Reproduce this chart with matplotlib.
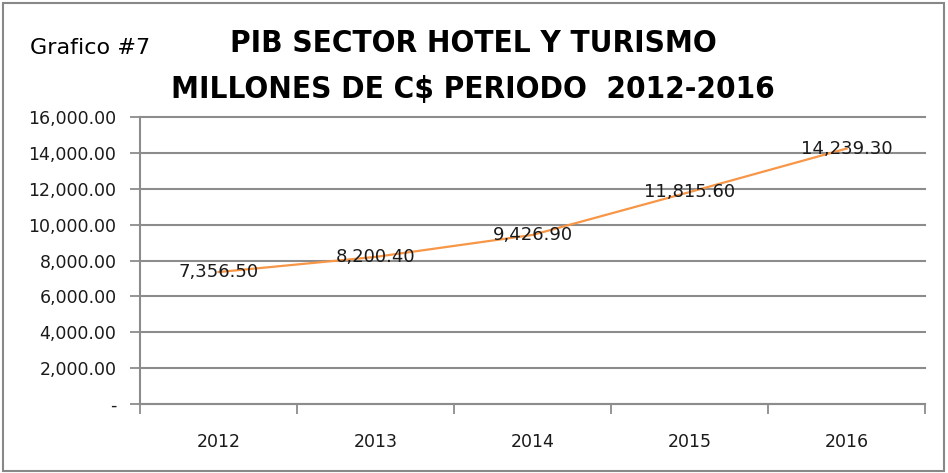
import matplotlib
matplotlib.use("Agg")
import matplotlib.pyplot as plt
from matplotlib.patches import Rectangle
from matplotlib.ticker import FuncFormatter

years = ["2012", "2013", "2014", "2015", "2016"]
pib = [7356.50, 8200.40, 9426.90, 11815.60, 14239.30]
y_ticks = [0, 2000, 4000, 6000, 8000, 10000, 12000, 14000, 16000]

grid_col = "#8c8c8c"


def money(v, pos=None):
    # accounting style, zero shown as a dash
    if v == 0:
        return "-"
    return "{:,.2f}".format(v)


fig = plt.figure(figsize=(9.48, 4.73), dpi=100)
ax = fig.add_axes([0.1477, 0.1459, 0.8281, 0.6067])

xs = list(range(len(years)))
ax.plot(xs, pib, color="#f79646", lw=1.6, zorder=3)
for x, v in zip(xs, pib):
    ax.text(x, v, money(v), ha="center", va="center", fontsize=13,
            color="#1a1a1a", zorder=4)

ax.set_xlim(-0.5, len(years) - 0.5)
ax.set_ylim(0, 16000)
ax.set_yticks(y_ticks)
ax.yaxis.set_major_formatter(FuncFormatter(money))
ax.yaxis.grid(True, color=grid_col, lw=1.5)
for gl in ax.get_ygridlines():
    gl.set_clip_on(False)
ax.set_axisbelow(True)

# category axis: ticks between categories, labels centred
ax.set_xticks([i - 0.5 for i in range(len(years) + 1)])
ax.set_xticklabels([])
ax.set_xticks(xs, minor=True)
ax.set_xticklabels(years, minor=True)
ax.tick_params(axis="x", which="major", length=7, width=1.3, color=grid_col)
ax.tick_params(axis="x", which="minor", length=0, pad=21, labelsize=12.5)
ax.tick_params(axis="y", length=7, width=1.3, color=grid_col, labelsize=12.5, pad=10)
for lab in ax.get_xticklabels(minor=True) + ax.get_yticklabels():
    lab.set_color("#1a1a1a")

for side in ["top", "right"]:
    ax.spines[side].set_visible(False)
for side in ["left", "bottom"]:
    ax.spines[side].set_color(grid_col)
    ax.spines[side].set_linewidth(1.5)

fig.text(0.499, 0.907, "PIB SECTOR HOTEL Y TURISMO", ha="center", va="center",
         fontsize=22.5, fontweight="bold", fontstretch="condensed")
fig.text(0.499, 0.81, "MILLONES DE C$ PERIODO  2012-2016", ha="center", va="center",
         fontsize=22.5, fontweight="bold", fontstretch="condensed")
fig.text(0.032, 0.898, "Grafico #7", ha="left", va="center", fontsize=16)

fig.patches.append(Rectangle((0.003, 0.004), 0.993, 0.99, transform=fig.transFigure,
                             fill=False, edgecolor="#888888", lw=1.5))

fig.savefig("out.png", dpi=100)
